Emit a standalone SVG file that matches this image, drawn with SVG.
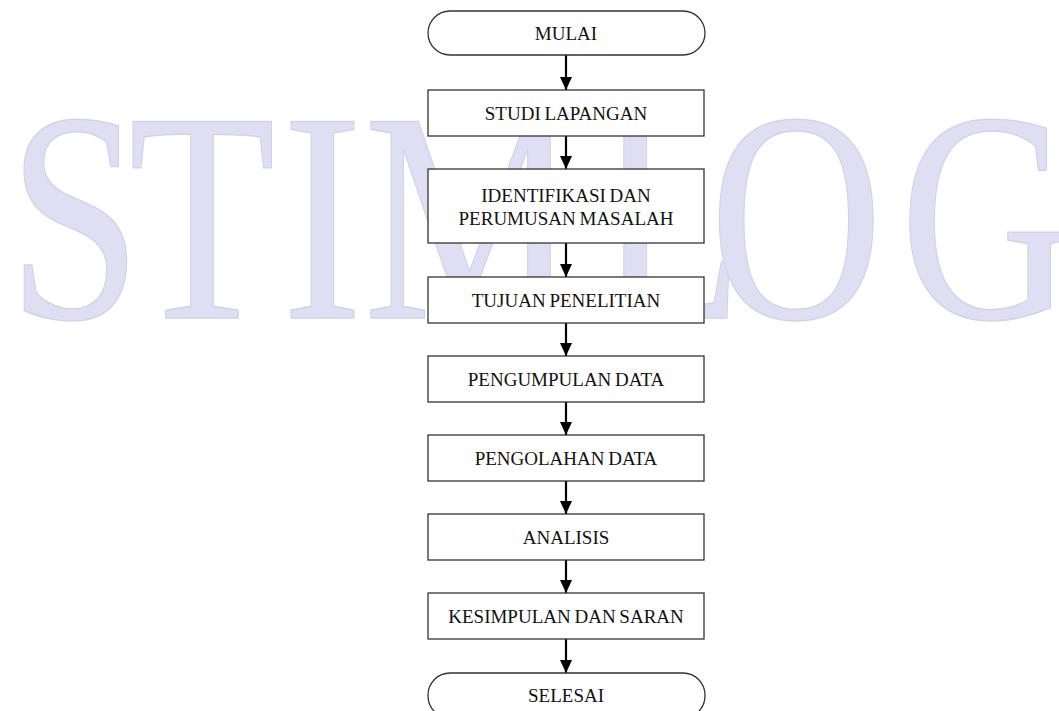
<svg xmlns="http://www.w3.org/2000/svg" width="1059" height="711" viewBox="0 0 1059 711">
  <style>
    .box { fill: #ffffff; stroke: #333333; stroke-width: 1.3; }
    .lbl { font-family: "Liberation Serif", "Times New Roman", serif; font-size: 19px; fill: #111111; text-anchor: middle; word-spacing: -1px; }
    .wm { font-family: "Liberation Serif", "Times New Roman", serif; font-size: 300px; fill: #dfdff4; stroke: #d2d2ea; stroke-width: 1.5; }
    .conn { stroke: #000000; stroke-width: 2.2; fill: none; marker-end: url(#arr); }
  </style>
  <defs>
    <marker id="arr" markerUnits="userSpaceOnUse" markerWidth="13" markerHeight="13" refX="13" refY="6" orient="auto">
      <path d="M0,0 L13,6 L0,12 Z" fill="#000000"/>
    </marker>
  </defs>
  <rect width="1059" height="711" fill="#ffffff"/>
  <g id="watermark" transform="scale(0.8,1)">
    <text class="wm" x="10 161 353 455 746 887 1125" y="318">STIMLOG</text>
  </g>
  <g id="connectors">
    <line class="conn" x1="566" y1="55" x2="566" y2="90"/>
    <line class="conn" x1="566" y1="136" x2="566" y2="169"/>
    <line class="conn" x1="566" y1="243" x2="566" y2="277"/>
    <line class="conn" x1="566" y1="323" x2="566" y2="356"/>
    <line class="conn" x1="566" y1="402" x2="566" y2="435"/>
    <line class="conn" x1="566" y1="481" x2="566" y2="514"/>
    <line class="conn" x1="566" y1="560" x2="566" y2="593"/>
    <line class="conn" x1="566" y1="639" x2="566" y2="673"/>
  </g>
  <g id="mulai">
    <rect class="box" x="428" y="11" width="277" height="44" rx="22" ry="22"/>
    <text class="lbl" x="566" y="40">MULAI</text>
  </g>
  <g id="studi-lapangan">
    <rect class="box" x="428" y="90" width="276" height="46"/>
    <text class="lbl" x="566" y="119.5">STUDI LAPANGAN</text>
  </g>
  <g id="identifikasi">
    <rect class="box" x="428" y="169" width="276" height="74"/>
    <text class="lbl" x="566" y="201.7">IDENTIFIKASI DAN</text>
    <text class="lbl" x="566" y="225">PERUMUSAN MASALAH</text>
  </g>
  <g id="tujuan">
    <rect class="box" x="428" y="277" width="276" height="46"/>
    <text class="lbl" x="566" y="306.5">TUJUAN PENELITIAN</text>
  </g>
  <g id="pengumpulan">
    <rect class="box" x="428" y="356" width="276" height="46"/>
    <text class="lbl" x="566" y="385.5">PENGUMPULAN DATA</text>
  </g>
  <g id="pengolahan">
    <rect class="box" x="428" y="435" width="276" height="46"/>
    <text class="lbl" x="566" y="464.5">PENGOLAHAN DATA</text>
  </g>
  <g id="analisis">
    <rect class="box" x="428" y="514" width="276" height="46"/>
    <text class="lbl" x="566" y="543.5">ANALISIS</text>
  </g>
  <g id="kesimpulan">
    <rect class="box" x="428" y="593" width="276" height="46"/>
    <text class="lbl" x="566" y="622.5">KESIMPULAN DAN SARAN</text>
  </g>
  <g id="selesai">
    <rect class="box" x="428" y="673" width="277" height="45" rx="22" ry="22"/>
    <text class="lbl" x="566" y="702">SELESAI</text>
  </g>
</svg>
